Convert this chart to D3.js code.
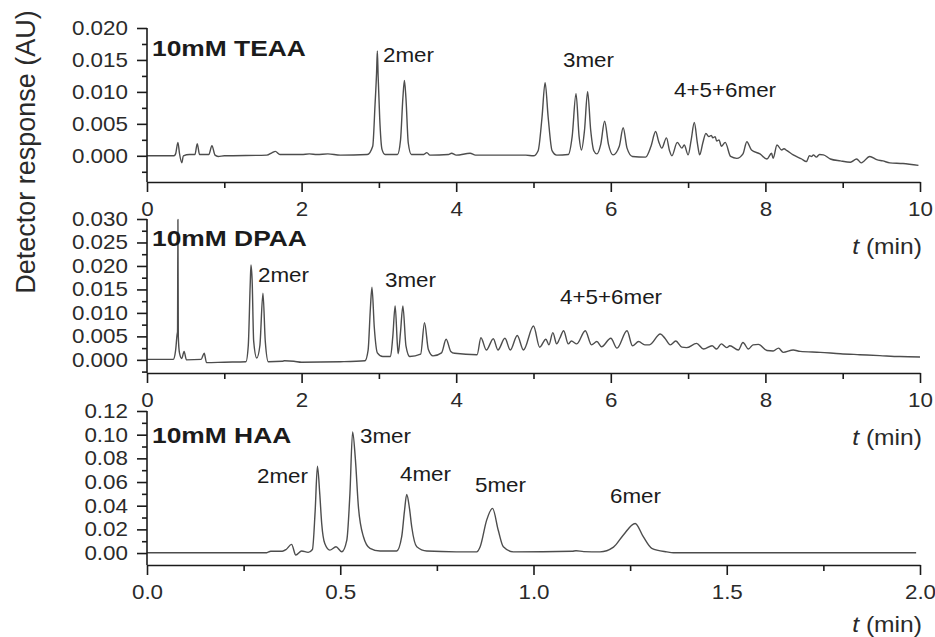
<!DOCTYPE html>
<html>
<head>
<meta charset="utf-8">
<script src="https://cdn.jsdelivr.net/npm/d3@7"></script>
<style>
  html, body { margin: 0; padding: 0; background: #fff; }
  svg { display: block; font-family: "Liberation Sans", Arial, sans-serif; }
</style>
</head>
<body>
<svg id="chart" width="935" height="637"></svg>
<script>
// Chromatograms: [time (min), detector response (AU)]
const teaa = [
  [0,0],[0.35,0],[0.37,0.0003],[0.40,0.0021],[0.42,0.0004],[0.45,-0.0011],[0.47,0],[0.55,0.0002],
  [0.62,0.0002],[0.65,0.0019],[0.68,0.0002],[0.80,0.0002],[0.84,0.0016],[0.88,0.0001],[0.92,-0.0001],
  [1.0,0],[1.55,0.0001],[1.62,0.0005],[1.66,0.0007],[1.72,0.0002],[2.0,0.0002],[2.1,0.0003],[2.2,0.0002],
  [2.34,0.0003],[2.5,0.0001],[2.85,0.0002],[2.92,0.0015],[2.95,0.008],[2.97,0.013],[2.98,0.0164],
  [2.99,0.0125],[3.01,0.006],[3.04,0.001],[3.08,0.0002],[3.24,0.0002],[3.28,0.0025],[3.31,0.009],
  [3.33,0.0118],[3.35,0.009],[3.38,0.002],[3.42,0.0002],[3.58,0.0002],[3.62,0.0005],[3.66,0.0001],
  [3.9,0.0002],[3.94,0.0004],[4.0,0.0001],[4.18,0.0004],[4.25,0.0001],[4.9,0.0001],[5.0,0.0],
  [5.06,0.0008],[5.11,0.006],[5.15,0.01145],[5.19,0.006],[5.24,0.0008],[5.3,0.0001],[5.45,0.0002],
  [5.5,0.003],[5.55,0.0097],[5.59,0.003],[5.62,0.0009],[5.66,0.004],[5.70,0.01005],[5.74,0.004],
  [5.78,0.0008],[5.82,0.0003],[5.87,0.0018],[5.92,0.0054],[5.97,0.0018],[6.03,0.00015],[6.11,0.0015],
  [6.16,0.0044],[6.21,0.0012],[6.28,-0.0001],[6.45,-0.0002],[6.52,0.0015],[6.58,0.0038],[6.62,0.0022],
  [6.66,0.0012],[6.72,0.0028],[6.76,0.0008],[6.79,0.0],[6.86,0.0021],[6.92,0.0012],[6.95,0.0017],
  [7.0,0.00015],[7.04,0.0025],[7.08,0.0052],[7.12,0.002],[7.15,0.00015],[7.19,0.002],[7.23,0.0035],
  [7.27,0.003],[7.30,0.0032],[7.32,0.0028],[7.35,0.003],[7.37,0.0023],[7.40,0.0025],[7.43,0.0015],
  [7.48,0.0021],[7.55,-0.0001],[7.63,-0.0004],[7.71,0.0003],[7.76,0.0022],[7.82,0.0009],[7.93,0.0003],
  [8.02,-0.0005],[8.08,0.0004],[8.10,-0.0004],[8.15,0.0017],[8.21,0.0009],[8.24,0.0011],[8.28,0.0008],
  [8.36,0.00015],[8.47,-0.0005],[8.53,-0.0009],[8.57,0.0],[8.60,-0.0001],[8.62,0.00015],[8.66,-0.0002],
  [8.70,0.0002],[8.75,0.00015],[8.84,-0.0005],[8.97,-0.0008],[9.10,-0.001],[9.18,-0.0005],[9.24,-0.0011],
  [9.35,-0.0001],[9.44,-0.0006],[9.52,-0.0008],[9.61,-0.0011],[9.78,-0.0012],[9.98,-0.0015]
];

const dpaa = [
  [0,0.0001],[0.34,0.0001],[0.37,0.002],[0.39,0.0055],[0.395,0.006],[0.40,0.0299],[0.405,0.005],
  [0.42,0.0015],[0.45,0.0003],[0.48,0.0018],[0.51,0.0],[0.70,0.0001],[0.74,0.0014],[0.77,-0.0006],
  [1.0,-0.0005],[1.28,-0.0004],[1.31,0.003],[1.335,0.016],[1.345,0.0202],[1.36,0.017],[1.38,0.004],
  [1.42,0.0004],[1.46,0.003],[1.50,0.0142],[1.53,0.004],[1.57,-0.0004],[1.75,-0.0003],[1.78,-0.0002],
  [1.9,-0.0003],[2.0,-0.0005],[2.5,-0.0004],[2.82,-0.0002],[2.86,0.002],[2.89,0.011],[2.91,0.0155],
  [2.94,0.007],[2.98,0.0015],[3.05,0.0007],[3.15,0.0007],[3.18,0.005],[3.21,0.0115],[3.24,0.003],
  [3.25,0.0013],[3.28,0.006],[3.31,0.0115],[3.35,0.003],[3.40,0.0007],[3.54,0.0012],[3.59,0.0079],
  [3.64,0.0022],[3.70,0.00085],[3.81,0.0015],[3.87,0.0044],[3.93,0.0018],[3.98,0.0014],[4.27,0.0011],
  [4.32,0.0047],[4.39,0.0021],[4.48,0.0045],[4.54,0.0021],[4.63,0.0046],[4.70,0.0021],[4.79,0.0052],
  [4.87,0.0021],[5.00,0.0072],[5.08,0.0027],[5.16,0.0044],[5.20,0.0032],[5.25,0.0058],[5.30,0.0034],
  [5.34,0.0046],[5.39,0.0062],[5.45,0.0034],[5.49,0.004],[5.56,0.0034],[5.67,0.0062],[5.75,0.0032],
  [5.82,0.0039],[5.88,0.0028],[6.00,0.0046],[6.08,0.0025],[6.21,0.0062],[6.28,0.003],[6.36,0.0039],
  [6.44,0.0032],[6.50,0.0032],[6.64,0.0055],[6.70,0.0046],[6.77,0.0032],[6.84,0.004],[6.92,0.0027],
  [6.98,0.0026],[7.11,0.0035],[7.20,0.0023],[7.31,0.003],[7.37,0.0023],[7.43,0.0034],[7.50,0.0026],
  [7.54,0.003],[7.65,0.0021],[7.71,0.0037],[7.78,0.0023],[7.84,0.0032],[7.91,0.0033],[8.02,0.002],
  [8.10,0.0019],[8.17,0.0025],[8.23,0.0016],[8.36,0.0021],[8.45,0.0018],[8.71,0.0016],[8.97,0.0013],
  [9.22,0.0011],[9.48,0.0009],[9.74,0.0007],[10.0,0.0006]
];

const haa = [
  [0,0.0003],[0.31,0.0003],[0.32,0.0015],[0.35,0.0015],[0.36,0.003],[0.374,0.0073],[0.385,-0.0017],
  [0.40,0.0017],[0.417,0.0006],[0.428,0.003],[0.435,0.035],[0.441,0.0734],[0.447,0.05],[0.452,0.025],
  [0.46,0.008],[0.473,0.0025],[0.489,0.0053],[0.504,0.0011],[0.517,0.011],[0.525,0.05],[0.532,0.1024],
  [0.539,0.08],[0.547,0.039],[0.56,0.0138],[0.577,0.004],[0.603,0.0017],[0.646,0.0017],[0.659,0.0138],
  [0.666,0.035],[0.672,0.0495],[0.679,0.038],[0.685,0.022],[0.698,0.0053],[0.724,0.0017],[0.80,0.001],
  [0.853,0.001],[0.862,0.0053],[0.879,0.028],[0.894,0.0377],[0.909,0.019],[0.922,0.0053],[0.948,0.001],
  [1.10,0.0015],[1.11,0.002],[1.13,0.0012],[1.172,0.001],[1.207,0.005],[1.232,0.015],[1.263,0.025],
  [1.284,0.0138],[1.306,0.004],[1.345,0.001],[1.362,0.0003],[1.99,0.0003]
];

// Axis ticks
const tickX10 = [0, 2, 4, 6, 8, 10];
const minorX10 = [1, 3, 5, 7, 9];
const tickX2 = [0, 0.5, 1.0, 1.5, 2.0];
const minorX2 = [0.25, 0.75, 1.25, 1.75];
const tickYTeaa = [0, 0.005, 0.010, 0.015, 0.020];
const minorYTeaa = [-0.0025, 0.0025, 0.0075, 0.0125, 0.0175];
const tickYDpaa = [0, 0.005, 0.010, 0.015, 0.020, 0.025, 0.030];
const minorYDpaa = [-0.0025, 0.0025, 0.0075, 0.0125, 0.0175, 0.0225, 0.0275];
const tickYHaa = [0, 0.02, 0.04, 0.06, 0.08, 0.10, 0.12];
const minorYHaa = [0.01, 0.03, 0.05, 0.07, 0.09, 0.11];

// Panel titles and peak annotations
const titles = ["10mM TEAA", "10mM DPAA", "10mM HAA"];
const peakLabelsTeaa = [["2mer", 383, 62], ["3mer", 563, 67], ["4+5+6mer", 674, 97]];
const peakLabelsDpaa = [["2mer", 258, 282], ["3mer", 385, 287], ["4+5+6mer", 560, 304]];
const peakLabelsHaa = [["2mer", 257, 483], ["3mer", 360, 443], ["4mer", 400, 481], ["5mer", 475, 492], ["6mer", 610, 503]];

const svg = d3.select("#chart");
const ink = "#1b1b1b";
const trace = "#4d4d4d";
const SX = 1.12;   // horizontal stretch of regular text
const SXB = 1.2;   // horizontal stretch of bold titles

const x0 = 147, x1 = 920;

const panels = [
  { data: teaa, xDom: [0, 10], yDom: [-0.0041, 0.020], yTop: 28, yBot: 182,
    ticks: tickX10, minor: minorX10, yt: tickYTeaa, ym: minorYTeaa, fmt: d3.format(".3f"),
    xfmt: d3.format("d"), title: titles[0], titleY: 56, peaks: peakLabelsTeaa, unitY: 254 },
  { data: dpaa, xDom: [0, 10], yDom: [-0.0028, 0.030], yTop: 219, yBot: 373,
    ticks: tickX10, minor: minorX10, yt: tickYDpaa, ym: minorYDpaa, fmt: d3.format(".3f"),
    xfmt: d3.format("d"), title: titles[1], titleY: 246, peaks: peakLabelsDpaa, unitY: 445 },
  { data: haa, xDom: [0, 2], yDom: [-0.0101, 0.12], yTop: 411, yBot: 565,
    ticks: tickX2, minor: minorX2, yt: tickYHaa, ym: minorYHaa, fmt: d3.format(".2f"),
    xfmt: d3.format(".1f"), title: titles[2], titleY: 443, peaks: peakLabelsHaa, unitY: 632 }
];

function stretchedText(g, txt, x, y, opts) {
  const t = g.append("text")
    .attr("transform", `translate(${x},${y}) scale(${opts.sx || SX},1)`)
    .attr("font-size", opts.size || 20)
    .attr("fill", ink)
    .attr("text-anchor", opts.anchor || "start");
  if (opts.weight) t.attr("font-weight", opts.weight);
  return t.text(txt);
}

panels.forEach(p => {
  const x = d3.scaleLinear().domain(p.xDom).range([x0, x1]);
  const y = d3.scaleLinear().domain(p.yDom).range([p.yBot, p.yTop]);
  const g = svg.append("g");

  // trace
  g.append("path")
    .datum(p.data)
    .attr("fill", "none")
    .attr("stroke", trace)
    .attr("stroke-width", 1.4)
    .attr("stroke-linejoin", "round")
    .attr("d", d3.line().x(d => x(d[0])).y(d => y(d[1])).curve(d3.curveMonotoneX));

  // left axis: minor ticks, then labelled major ticks
  g.append("g").attr("transform", `translate(${x0},0)`)
    .call(d3.axisLeft(y).tickValues(p.ym).tickSize(5).tickSizeOuter(0).tickFormat(""))
    .call(a => a.select(".domain").remove());
  const ya = g.append("g").attr("transform", `translate(${x0},0)`)
    .call(d3.axisLeft(y).tickValues(p.yt).tickSize(10).tickPadding(7).tickSizeOuter(0).tickFormat(p.fmt));
  ya.select(".domain").attr("d", `M0,${p.yTop}V${p.yBot}`);

  // bottom axis
  g.append("g").attr("transform", `translate(0,${p.yBot})`)
    .call(d3.axisBottom(x).tickValues(p.minor).tickSize(6).tickSizeOuter(0).tickFormat(""))
    .call(a => a.select(".domain").remove());
  g.append("g").attr("transform", `translate(0,${p.yBot})`)
    .call(d3.axisBottom(x).tickValues(p.ticks).tickSize(10).tickSizeOuter(0).tickFormat(p.xfmt))
    .call(a => a.selectAll(".tick text").attr("y", 34).attr("dy", 0));

  g.selectAll(".domain, .tick line").attr("stroke", ink).attr("stroke-width", 1.6);
  g.selectAll(".tick text")
    .attr("font-size", 20)
    .attr("font-family", "Liberation Sans, Arial, sans-serif")
    .attr("fill", "#2a2a2a")
    .attr("transform", `scale(${SX},1)`);

  // title
  stretchedText(g, p.title, 152, p.titleY, { weight: "bold", sx: SXB, size: 22 });
  // peak labels
  p.peaks.forEach(([txt, px, py]) => stretchedText(g, txt, px, py, {}));

  // axis unit
  const u = g.append("text")
    .attr("transform", `translate(922,${p.unitY}) scale(${SX},1)`)
    .attr("font-size", 22).attr("fill", "#2a2a2a").attr("text-anchor", "end");
  u.append("tspan").attr("font-style", "italic").text("t");
  u.append("tspan").text(" (min)");
});

// shared y-axis title
svg.append("text")
  .attr("transform", "translate(35,152) rotate(-90)")
  .attr("text-anchor", "middle")
  .attr("font-size", 27)
  .attr("fill", "#2a2a2a")
  .text("Detector response (AU)");
</script>
</body>
</html>
